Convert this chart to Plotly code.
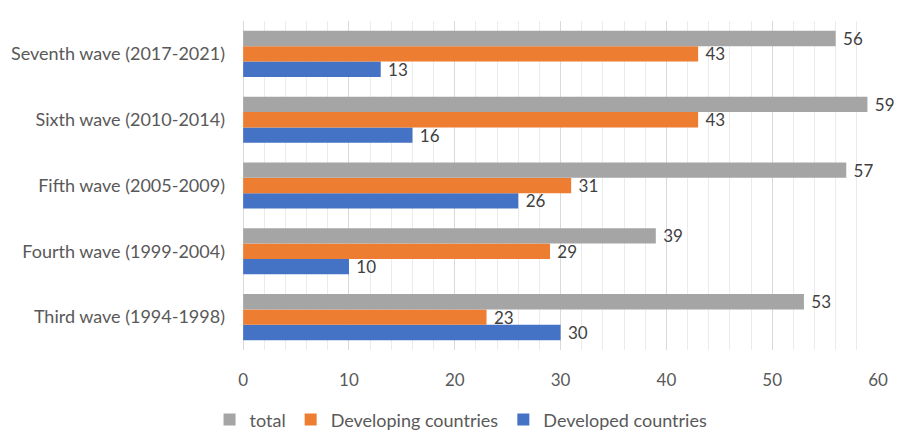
import plotly.graph_objects as go

categories = ["Third wave (1994-1998)", "Fourth wave (1999-2004)", "Fifth wave (2005-2009)",
              "Sixth wave (2010-2014)", "Seventh wave (2017-2021)"]
total = [53, 39, 57, 59, 56]
developing = [23, 29, 31, 43, 43]
developed = [30, 10, 26, 16, 13]

FONT = "Lato"
series = [
    ("Developed countries", developed, "#4472C4"),
    ("Developing countries", developing, "#ED7D31"),
    ("total", total, "#A5A5A5"),
]

fig = go.Figure()
for name, vals, color in series:
    fig.add_trace(go.Bar(
        y=categories, x=vals, name=name, orientation="h",
        marker=dict(color=color, line=dict(width=0)),
        text=[" " + str(v) for v in vals], textposition="outside",
        constraintext="none",
        textfont=dict(family=FONT, size=17, color="#404040"),
        cliponaxis=False,
    ))

fig.update_layout(
    width=904, height=435,
    margin=dict(l=240, r=26, t=21, b=85, autoexpand=False),
    paper_bgcolor="white", plot_bgcolor="white",
    barmode="group", bargap=0.3, bargroupgap=0,
    font=dict(family=FONT, size=17, color="#595959"),
    xaxis=dict(range=[-0.3, 60], dtick=10, tick0=0, showgrid=True, gridcolor="#D9D9D9",
               gridwidth=1, zeroline=False, showline=False, ticks="",
               ticklabelstandoff=18,
               minor=dict(dtick=2, showgrid=True, gridcolor="#EBEBEB", gridwidth=1),
               tickfont=dict(family=FONT, size=17, color="#595959")),
    yaxis=dict(showgrid=False, zeroline=False, showline=False, ticks="",
               ticklabelstandoff=14,
               tickfont=dict(family=FONT, size=18, color="#595959")),
    legend=dict(orientation="h", xref="container", yref="container",
                x=0.51, xanchor="center", y=0.035, yanchor="middle",
                traceorder="reversed", font=dict(family=FONT, size=18, color="#595959")),
)

fig.write_html("out.html")
